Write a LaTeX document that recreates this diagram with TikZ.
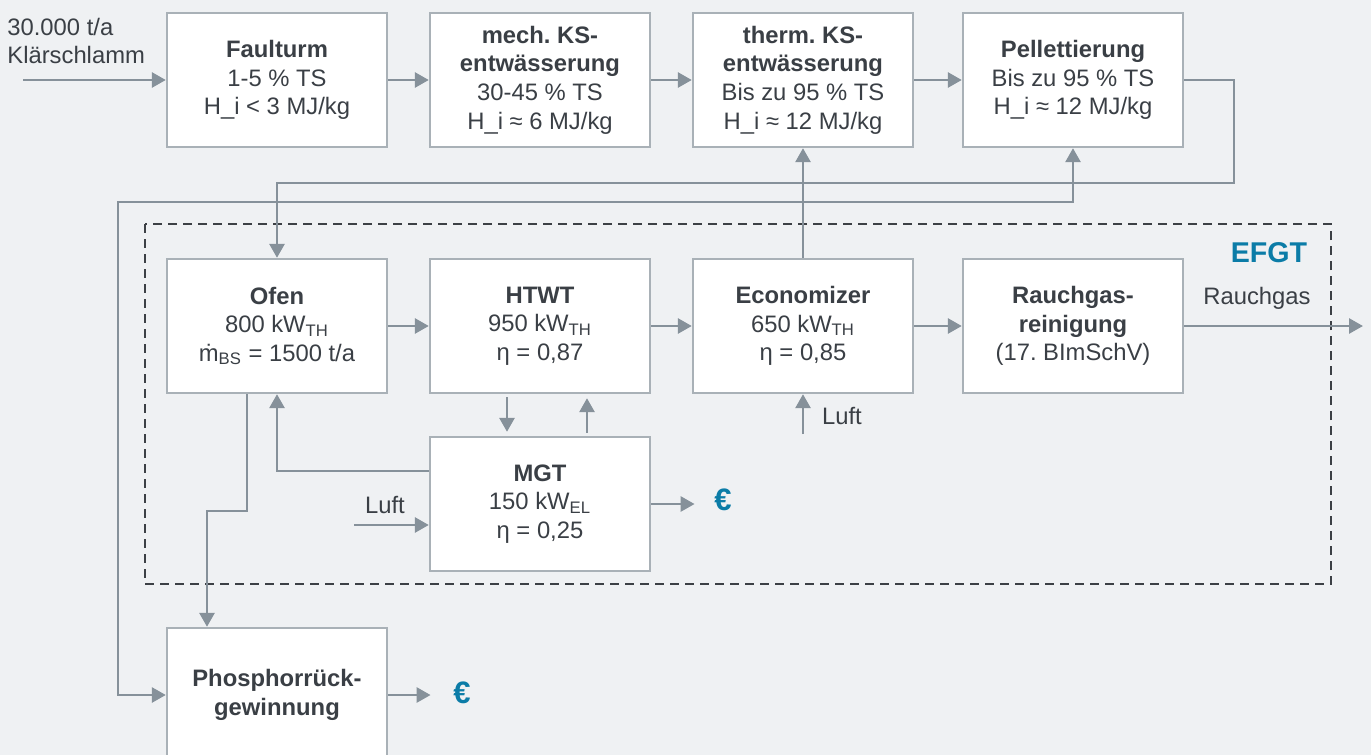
\documentclass[tikz,border=0pt]{standalone}
\usepackage{fontspec}
\setmainfont{Liberation Sans}
\usetikzlibrary{arrows.meta, calc}
\definecolor{hgrund}{HTML}{EFF1F3}
\definecolor{rahmen}{HTML}{A9B1B7}
\definecolor{linie}{HTML}{86919A}
\definecolor{schrift}{HTML}{3A3F45}
\definecolor{blau}{HTML}{0B7CA7}
\definecolor{grenze}{HTML}{3C4045}
\frenchspacing

\begin{document}
\begin{tikzpicture}[x=0.5pt, y=-0.5pt,
  font=\fontsize{11.9}{14.3}\selectfont, text=schrift,
  block/.style={draw=rahmen, fill=white, line width=1.2pt, minimum width=110pt, minimum height=67pt, align=center, inner sep=0pt},
  pfeil/.style={draw=linie, line width=1.4pt, -{Triangle[length=7pt, width=7.5pt]}},
  lbl/.style={inner sep=0pt},
  euro/.style={font=\fontsize{15.5}{15.5}\selectfont\bfseries, text=blau, inner sep=0pt}]
\fill[hgrund] (0,0) rectangle (1371,755);
\useasboundingbox (0,0) rectangle (1371,755);

\draw[grenze, line width=1.2pt, dash pattern=on 4.5pt off 3pt] (145,224) rectangle (1331,584);
\node[lbl, font=\fontsize{14.3}{15}\selectfont\bfseries, text=blau] (efgt) at (1269,253) {EFGT};

\node[block] (faul) at (277,80) {\textbf{Faulturm}\\1-5 \% TS\\H\_i < 3 MJ/kg};
\node[block] (mech) at (540,80) {\textbf{mech. KS-}\\\textbf{entwässerung}\\30-45 \% TS\\H\_i ≈ 6 MJ/kg};
\node[block] (therm) at (803,80) {\textbf{therm. KS-}\\\textbf{entwässerung}\\Bis zu 95 \% TS\\H\_i ≈ 12 MJ/kg};
\node[block] (pellet) at (1073,80) {\textbf{Pellettierung}\\Bis zu 95 \% TS\\H\_i ≈ 12 MJ/kg};
\node[block] (ofen) at (277,326) {\textbf{Ofen}\\800 kW\textsubscript{TH}\\ṁ\textsubscript{BS} = 1500 t/a};
\node[block] (htwt) at (540,326) {\textbf{HTWT}\\950 kW\textsubscript{TH}\\η = 0,87};
\node[block] (econ) at (803,326) {\textbf{Economizer}\\650 kW\textsubscript{TH}\\η = 0,85};
\node[block] (rauch) at (1073,326) {\textbf{Rauchgas-}\\\textbf{reinigung}\\(17. BImSchV)};
\node[block] (mgt) at (540,504) {\textbf{MGT}\\150 kW\textsubscript{EL}\\η = 0,25};
\node[block] (phos) at (277,695) {\textbf{Phosphorrück-}\\\textbf{gewinnung}};

\node[lbl, align=left, anchor=west] (zulauf) at (7,41) {30.000 t/a\\Klärschlamm};
\node[lbl] (rgas) at (1257,298) {Rauchgas};
\node[lbl] (l1) at (385,505) {Luft};
\node[lbl] (l2) at (842,416) {Luft};
\node[euro] (eur1) at (723,500) {€};
\node[euro] (eur2) at (462,693) {€};

\coordinate (ein) at (23,80);
\coordinate (aus) at (1363,326);
\coordinate (rueck) at (1234,183);
\coordinate (abzw) at (803,202);
\coordinate (links) at (118,202);
\coordinate (luft1) at (354,525);
\coordinate (luft2) at (803,434);
\coordinate (knick) at (207,511);

\draw[pfeil] (ein) -- (faul);
\draw[pfeil] (faul) -- (mech);
\draw[pfeil] (mech) -- (therm);
\draw[pfeil] (therm) -- (pellet);
\draw[pfeil] (pellet.east) -| (rueck) -| (ofen.north);
\draw[pfeil] (econ) -- (therm);
\draw[pfeil] (abzw) -| (pellet.south);
\draw[pfeil] (abzw) -- (links) |- (phos.west);

\draw[pfeil] (ofen) -- (htwt);
\draw[pfeil] (htwt) -- (econ);
\draw[pfeil] (econ) -- (rauch);
\draw[pfeil] (rauch) -- (aus);
\draw[pfeil] (luft2) -- (econ.south);

\draw[pfeil, shorten <=1.5pt, shorten >=2pt] ($(htwt.south)+(-33,0)$) -- ($(mgt.north)+(-33,0)$);
\draw[pfeil, shorten <=1.5pt, shorten >=2pt] ($(mgt.north)+(47,0)$) -- ($(htwt.south)+(47,0)$);
\draw[pfeil] ($(mgt.west)+(0,-33)$) -| (ofen.south);
\draw[pfeil] (luft1) -- (luft1 -| mgt.west);
\draw[pfeil, shorten >=9.7pt] (mgt.east) -- (mgt.east -| eur1.west);

\draw[pfeil] ($(ofen.south)+(-30,0)$) |- (knick) -- (knick |- phos.north);
\draw[pfeil, shorten >=11.2pt] (phos.east) -- (phos.east -| eur2.west);
\end{tikzpicture}
\end{document}
